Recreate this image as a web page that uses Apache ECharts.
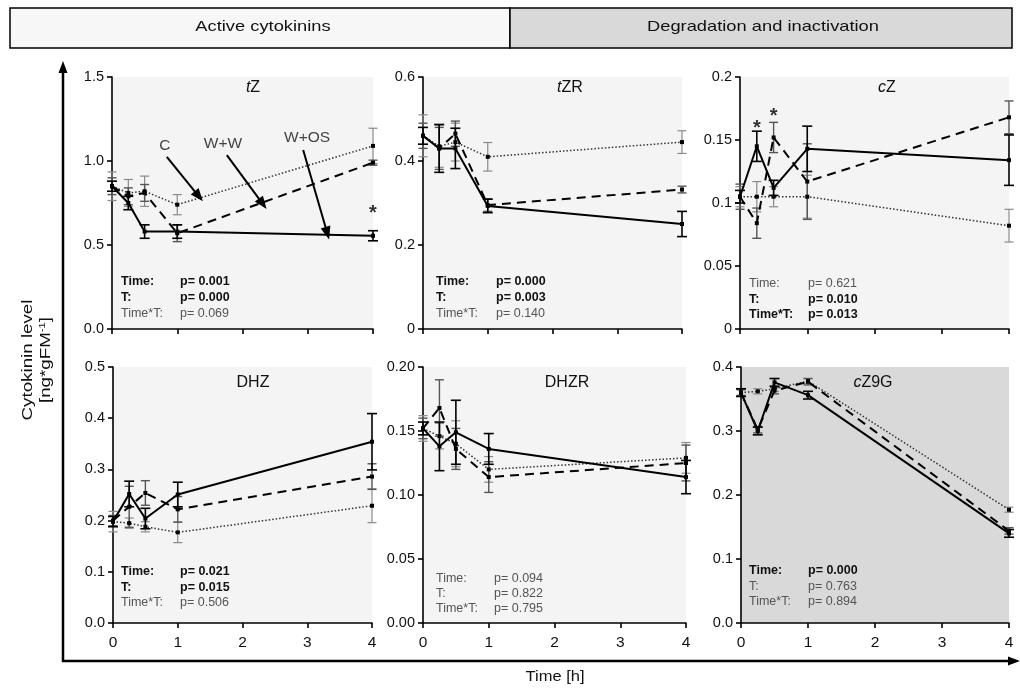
<!DOCTYPE html>
<html>
<head>
<meta charset="utf-8">
<script src="https://cdn.jsdelivr.net/npm/echarts@6/dist/echarts.min.js"></script>
<style>
  html, body { margin: 0; padding: 0; background: #ffffff; }
  #chart { width: 1020px; height: 693px; }
</style>
</head>
<body>
<div id="chart"></div>
<script>
// Sampling times (h)
const times = [0, 0.25, 0.5, 1, 4];

// Treatments: C (control), W+W (wounding + water), W+OS (wounding + oral secretions)
// tZ
const tZ_C = [0.85, 0.81, 0.82, 0.74, 1.09];
const tZ_C_sd = [0.085, 0.08, 0.09, 0.06, 0.105];
const tZ_WW = [0.85, 0.79, 0.81, 0.57, 0.99];
const tZ_WW_sd = [0.05, 0.05, 0.05, 0.05, 0.015];
const tZ_WOS = [0.85, 0.75, 0.58, 0.58, 0.555];
const tZ_WOS_sd = [0.03, 0.04, 0.04, 0.04, 0.03];
const tZ_ticks = ['0.0', '0.5', '1.0', '1.5'];

// tZR
const tZR_C = [0.46, 0.435, 0.445, 0.41, 0.445];
const tZR_C_sd = [0.05, 0.05, 0.045, 0.034, 0.027];
const tZR_WW = [0.46, 0.43, 0.465, 0.295, 0.332];
const tZR_WW_sd = [0.03, 0.05, 0.03, 0.015, 0.008];
const tZR_WOS = [0.46, 0.43, 0.43, 0.293, 0.25];
const tZR_WOS_sd = [0.02, 0.057, 0.048, 0.016, 0.03];
const tZR_ticks = ['0', '0.2', '0.4', '0.6'];

// cZ
const cZ_C = [0.105, 0.105, 0.105, 0.105, 0.082];
const cZ_C_sd = [0.008, 0.012, 0.008, 0.017, 0.013];
const cZ_WW = [0.105, 0.084, 0.152, 0.117, 0.168];
const cZ_WW_sd = [0.01, 0.012, 0.012, 0.03, 0.013];
const cZ_WOS = [0.105, 0.145, 0.112, 0.143, 0.134];
const cZ_WOS_sd = [0.005, 0.012, 0.006, 0.018, 0.02];
const cZ_ticks = ['0', '0.05', '0.1', '0.15', '0.2'];

// DHZ
const DHZ_C = [0.198, 0.195, 0.188, 0.177, 0.229];
const DHZ_C_sd = [0.02, 0.01, 0.01, 0.02, 0.033];
const DHZ_WW = [0.2, 0.227, 0.254, 0.222, 0.286];
const DHZ_WW_sd = [0.01, 0.04, 0.024, 0.025, 0.025];
const DHZ_WOS = [0.198, 0.252, 0.204, 0.251, 0.354];
const DHZ_WOS_sd = [0.01, 0.025, 0.02, 0.024, 0.055];
const DHZ_ticks = ['0.0', '0.1', '0.2', '0.3', '0.4', '0.5'];

// DHZR
const DHZR_C = [0.152, 0.146, 0.14, 0.12, 0.129];
const DHZR_C_sd = [0.01, 0.01, 0.018, 0.01, 0.012];
const DHZR_WW = [0.152, 0.168, 0.136, 0.114, 0.125];
const DHZR_WW_sd = [0.008, 0.022, 0.016, 0.012, 0.014];
const DHZR_WOS = [0.152, 0.138, 0.149, 0.136, 0.114];
const DHZR_WOS_sd = [0.005, 0.019, 0.025, 0.012, 0.013];
const DHZR_ticks = ['0.00', '0.05', '0.10', '0.15', '0.20'];

// cZ9G
const cZ9G_C = [0.36, 0.362, 0.366, 0.378, 0.177];
const cZ9G_C_sd = [0.004, 0.004, 0.004, 0.004, 0.004];
const cZ9G_WW = [0.36, 0.302, 0.363, 0.377, 0.144];
const cZ9G_WW_sd = [0.005, 0.005, 0.005, 0.005, 0.005];
const cZ9G_WOS = [0.36, 0.30, 0.376, 0.356, 0.14];
const cZ9G_WOS_sd = [0.006, 0.006, 0.006, 0.006, 0.006];
const cZ9G_ticks = ['0.0', '0.1', '0.2', '0.3', '0.4'];

// Statistics (two-way ANOVA) per panel
const statNames = ['Time:', 'T:', 'Time*T:'];
const tZ_p = ['0.001', '0.000', '0.069'];
const tZR_p = ['0.000', '0.003', '0.140'];
const cZ_p = ['0.621', '0.010', '0.013'];
const DHZ_p = ['0.021', '0.015', '0.506'];
const DHZR_p = ['0.094', '0.822', '0.795'];
const cZ9G_p = ['0.000', '0.763', '0.894'];

// Significant effects (p < 0.05)
const sig = p => parseFloat(p) < 0.05;

// Significance marks: [time, level]
const tZ_stars = [[4, 0.69]];
const cZ_stars = [[0.25, 0.159], [0.5, 0.169]];

const FONT = 'Liberation Sans, Arial, Helvetica, sans-serif';

const panels = [
  { name: '{i|t}Z', C: tZ_C, Cs: tZ_C_sd, W: tZ_WW, Ws: tZ_WW_sd, O: tZ_WOS, Os: tZ_WOS_sd,
    ticks: tZ_ticks, max: 1.5, step: 0.5, p: tZ_p, stars: tZ_stars,
    box: { left: 112, top: 77, width: 261, height: 252 }, bg: '#f4f4f4', title: [253, 88],
    stat: [9, 68, 282, 15.6], xLabels: false },
  { name: '{i|t}ZR', C: tZR_C, Cs: tZR_C_sd, W: tZR_WW, Ws: tZR_WW_sd, O: tZR_WOS, Os: tZR_WOS_sd,
    ticks: tZR_ticks, max: 0.6, step: 0.2, p: tZR_p, stars: [],
    box: { left: 423, top: 77, width: 259, height: 252 }, bg: '#f4f4f4', title: [570, 88],
    stat: [13, 73, 282, 15.6], xLabels: false },
  { name: '{i|c}Z', C: cZ_C, Cs: cZ_C_sd, W: cZ_WW, Ws: cZ_WW_sd, O: cZ_WOS, Os: cZ_WOS_sd,
    ticks: cZ_ticks, max: 0.2, step: 0.05, p: cZ_p, stars: cZ_stars,
    box: { left: 740, top: 77, width: 269, height: 252 }, bg: '#f4f4f4', title: [887, 88],
    stat: [9, 68, 284, 15.5], xLabels: false },
  { name: 'DHZ', C: DHZ_C, Cs: DHZ_C_sd, W: DHZ_WW, Ws: DHZ_WW_sd, O: DHZ_WOS, Os: DHZ_WOS_sd,
    ticks: DHZ_ticks, max: 0.5, step: 0.1, p: DHZ_p, stars: [],
    box: { left: 113, top: 367, width: 259, height: 256 }, bg: '#f4f4f4', title: [253, 383],
    stat: [8, 67, 572, 15.2], xLabels: true },
  { name: 'DHZR', C: DHZR_C, Cs: DHZR_C_sd, W: DHZR_WW, Ws: DHZR_WW_sd, O: DHZR_WOS, Os: DHZR_WOS_sd,
    ticks: DHZR_ticks, max: 0.2, step: 0.05, p: DHZR_p, stars: [],
    box: { left: 423, top: 367, width: 263, height: 256 }, bg: '#f4f4f4', title: [567, 383],
    stat: [13, 71, 579, 15], xLabels: true },
  { name: '{i|c}Z9G', C: cZ9G_C, Cs: cZ9G_C_sd, W: cZ9G_WW, Ws: cZ9G_WW_sd, O: cZ9G_WOS, Os: cZ9G_WOS_sd,
    ticks: cZ9G_ticks, max: 0.4, step: 0.1, p: cZ9G_p, stars: [],
    box: { left: 741, top: 367, width: 268, height: 256 }, bg: '#d9d9d9', title: [873, 383],
    stat: [8, 67, 571, 15.5], xLabels: true }
];

function pairs(vals) { return times.map((t, i) => [t, vals[i]]); }

function errorBars(idx, vals, sds, color, capHalf, width) {
  return {
    type: 'custom', xAxisIndex: idx, yAxisIndex: idx, silent: true, z: 3,
    data: times.map((t, i) => [t, vals[i], sds[i]]),
    renderItem: function (params, api) {
      const x = api.value(0), y = api.value(1), e = api.value(2);
      const hi = api.coord([x, y + e]);
      const lo = api.coord([x, y - e]);
      const st = { stroke: color, lineWidth: width };
      return {
        type: 'group',
        children: [
          { type: 'line', shape: { x1: hi[0], y1: hi[1], x2: lo[0], y2: lo[1] }, style: st },
          { type: 'line', shape: { x1: hi[0] - capHalf, y1: hi[1], x2: hi[0] + capHalf, y2: hi[1] }, style: st },
          { type: 'line', shape: { x1: lo[0] - capHalf, y1: lo[1], x2: lo[0] + capHalf, y2: lo[1] }, style: st }
        ]
      };
    }
  };
}

function lineSeries(idx, name, vals, lineStyle, z) {
  return {
    type: 'line', name: name, xAxisIndex: idx, yAxisIndex: idx, data: pairs(vals),
    symbol: 'rect', symbolSize: 4, showSymbol: true, silent: true, z: z,
    itemStyle: { color: '#000' }, lineStyle: lineStyle, animation: false
  };
}

const grids = [], xAxes = [], yAxes = [], series = [], graphics = [];

panels.forEach((pn, k) => {
  grids.push(Object.assign({ show: true, backgroundColor: pn.bg, borderWidth: 0 }, pn.box));
  xAxes.push({
    type: 'value', gridIndex: k, min: 0, max: 4, interval: 1,
    axisLine: { show: true, onZero: false, lineStyle: { color: '#000', width: 1.6 } },
    axisTick: { show: true, length: 5, lineStyle: { color: '#000', width: 1.6 } },
    axisLabel: { show: pn.xLabels, color: '#111', fontSize: 15.5, fontFamily: FONT, margin: 12 },
    splitLine: { show: false }
  });
  yAxes.push({
    type: 'value', gridIndex: k, min: 0, max: pn.max, interval: pn.step,
    axisLine: { show: true, onZero: false, lineStyle: { color: '#000', width: 1.6 } },
    axisTick: { show: true, length: 5, lineStyle: { color: '#000', width: 1.6 } },
    axisLabel: {
      color: '#111', fontSize: 14.5, fontFamily: FONT, margin: 8,
      showMinLabel: true, showMaxLabel: true,
      formatter: (v) => pn.ticks[Math.round(v / pn.step)]
    },
    splitLine: { show: false }
  });

  // error bars: C grey, W+W dark grey, W+OS black
  series.push(errorBars(k, pn.C, pn.Cs, '#8a8a8a', 4.5, 1.2));
  series.push(errorBars(k, pn.W, pn.Ws, '#555', 4.5, 1.4));
  series.push(errorBars(k, pn.O, pn.Os, '#000', 5, 1.6));

  series.push(lineSeries(k, 'C', pn.C, { color: '#333', width: 1.5, type: [1.5, 2] }, 4));
  series.push(lineSeries(k, 'W+W', pn.W, { color: '#000', width: 2, type: [9, 6] }, 5));
  series.push(lineSeries(k, 'W+OS', pn.O, { color: '#000', width: 2, type: 'solid' }, 6));

  if (pn.stars.length) {
    series.push({
      type: 'scatter', xAxisIndex: k, yAxisIndex: k, silent: true, symbolSize: 0, z: 7,
      data: pn.stars,
      label: { show: true, position: 'inside', formatter: '*', color: '#000',
               fontSize: 20, fontWeight: 'bold', fontFamily: FONT }
    });
  }

  // panel title
  graphics.push({
    type: 'text', x: pn.title[0], y: pn.title[1], z: 10,
    style: {
      text: pn.name, fontSize: 16, fontFamily: FONT, fill: '#111',
      align: 'center', verticalAlign: 'middle',
      rich: { i: { fontStyle: 'italic', fontSize: 16, fontFamily: FONT, fill: '#111' } }
    }
  });

  // statistics block
  const [dxName, dxP, y0, dy] = pn.stat;
  statNames.forEach((nm, r) => {
    const bold = sig(pn.p[r]);
    const st = {
      fontSize: 12.5, fontFamily: FONT, fontWeight: bold ? 'bold' : 'normal',
      fill: bold ? '#111' : '#555', verticalAlign: 'middle', align: 'left'
    };
    graphics.push({ type: 'text', x: pn.box.left + dxName, y: y0 + r * dy, z: 10,
                    style: Object.assign({ text: nm }, st) });
    graphics.push({ type: 'text', x: pn.box.left + dxP, y: y0 + r * dy, z: 10,
                    style: Object.assign({ text: 'p= ' + pn.p[r] }, st) });
  });
});

// Treatment labels with arrows in the tZ panel
series.push({
  type: 'scatter', xAxisIndex: 0, yAxisIndex: 0, silent: true, symbolSize: 0, z: 8,
  data: [
    { name: 'C', value: [0.81, 1.09] },
    { name: 'W+W', value: [1.70, 1.105] },
    { name: 'W+OS', value: [2.99, 1.14] }
  ],
  label: { show: true, position: 'inside', formatter: '{b}', color: '#111', fontSize: 15.5, fontFamily: FONT },
  markLine: {
    silent: true, symbol: ['none', 'triangle'], symbolSize: [10, 13],
    label: { show: false },
    lineStyle: { color: '#000', width: 2, type: 'solid' },
    emphasis: { disabled: true },
    data: [
      [{ coord: [0.84, 1.025] }, { coord: [1.33, 0.79] }],
      [{ coord: [1.76, 1.035] }, { coord: [2.31, 0.745] }],
      [{ coord: [2.93, 1.065] }, { coord: [3.30, 0.57] }]
    ]
  }
});

// Header bands
graphics.push(
  { type: 'rect', shape: { x: 10, y: 8, width: 500, height: 40 }, z: 1,
    style: { fill: '#f7f7f7', stroke: '#000', lineWidth: 1.5 } },
  { type: 'rect', shape: { x: 510, y: 8, width: 502, height: 40 }, z: 1,
    style: { fill: '#d9d9d9', stroke: '#000', lineWidth: 1.5 } },
  { type: 'text', x: 263, y: 27, scaleX: 1.22, z: 2,
    style: { text: 'Active cytokinins', fontSize: 15, fontFamily: FONT, fill: '#111', align: 'center', verticalAlign: 'middle' } },
  { type: 'text', x: 763, y: 27, scaleX: 1.22, z: 2,
    style: { text: 'Degradation and inactivation', fontSize: 15, fontFamily: FONT, fill: '#111', align: 'center', verticalAlign: 'middle' } }
);

// Shared outer axes with arrowheads
graphics.push(
  { type: 'line', shape: { x1: 63, y1: 70, x2: 63, y2: 662 }, z: 2, style: { stroke: '#000', lineWidth: 2.5 } },
  { type: 'polygon', shape: { points: [[63, 61], [58.5, 73], [67.5, 73]] }, z: 2, style: { fill: '#000' } },
  { type: 'line', shape: { x1: 62, y1: 661, x2: 1010, y2: 661 }, z: 2, style: { stroke: '#000', lineWidth: 2.5 } },
  { type: 'polygon', shape: { points: [[1020, 661], [1008, 656.5], [1008, 665.5]] }, z: 2, style: { fill: '#000' } },
  { type: 'text', x: 28, y: 360, rotation: Math.PI / 2, scaleX: 1.25, z: 2,
    style: { text: 'Cytokinin level', fontSize: 15, fontFamily: FONT, fill: '#111', align: 'center', verticalAlign: 'middle' } },
  { type: 'text', x: 46, y: 360, rotation: Math.PI / 2, scaleX: 1.25, z: 2,
    style: { text: '[ng*gFM{sup|-1}]', fontSize: 15, fontFamily: FONT, fill: '#111', align: 'center', verticalAlign: 'middle',
             rich: { sup: { fontSize: 9, fontFamily: FONT, fill: '#111', verticalAlign: 'top', lineHeight: 15 } } } },
  { type: 'text', x: 555, y: 677, scaleX: 1.1, z: 2,
    style: { text: 'Time [h]', fontSize: 15, fontFamily: FONT, fill: '#111', align: 'center', verticalAlign: 'middle' } }
);

const chart = echarts.init(document.getElementById('chart'), null, { renderer: 'canvas' });
chart.setOption({
  animation: false,
  backgroundColor: '#ffffff',
  grid: grids,
  xAxis: xAxes,
  yAxis: yAxes,
  series: series,
  graphic: graphics
});
</script>
</body>
</html>
